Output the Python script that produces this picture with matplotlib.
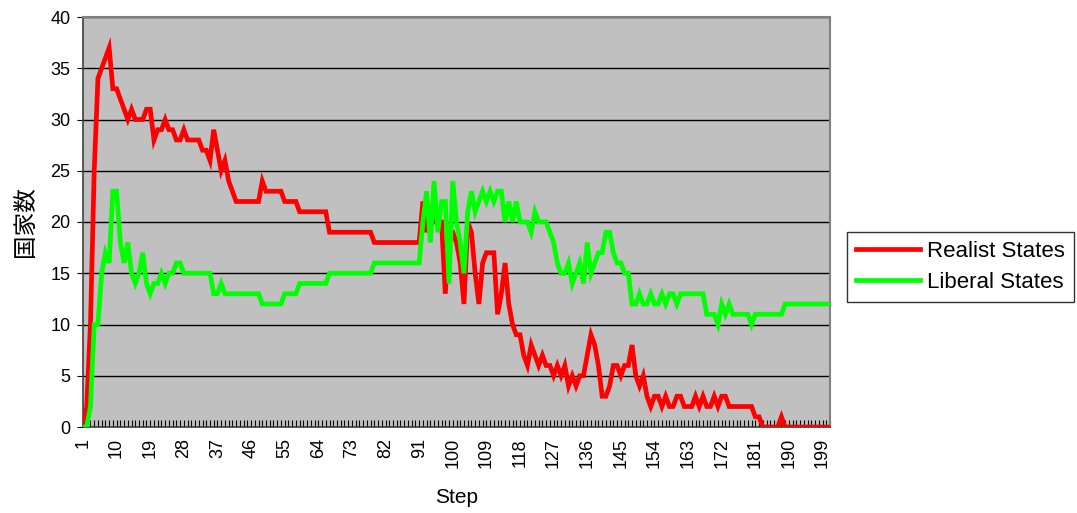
import matplotlib
matplotlib.use("Agg")
import matplotlib.pyplot as plt

# Simulation output: number of states per step
steps = list(range(1, 202))

realist = [
    0, 2, 10, 25, 34, 35, 36, 37, 33, 33,
    32, 31, 30, 31, 30, 30, 30, 31, 31, 28,
    29, 29, 30, 29, 29, 28, 28, 29, 28, 28,
    28, 28, 27, 27, 26, 29, 27, 25, 26, 24,
    23, 22, 22, 22, 22, 22, 22, 22, 24, 23,
    23, 23, 23, 23, 22, 22, 22, 22, 21, 21,
    21, 21, 21, 21, 21, 21, 19, 19, 19, 19,
    19, 19, 19, 19, 19, 19, 19, 19, 18, 18,
    18, 18, 18, 18, 18, 18, 18, 18, 18, 18,
    18, 22, 19, 21, 20, 20, 20, 13, 19, 19,
    18, 16, 12, 20, 19, 15, 12, 16, 17, 17,
    17, 11, 13, 16, 12, 10, 9, 9, 7, 6,
    8, 7, 6, 7, 6, 6, 5, 6, 5, 6,
    4, 5, 4, 5, 5, 7, 9, 8, 6, 3,
    3, 4, 6, 6, 5, 6, 6, 8, 5, 4,
    5, 3, 2, 3, 3, 2, 3, 2, 2, 3,
    3, 2, 2, 2, 3, 2, 3, 2, 2, 3,
    2, 3, 3, 2, 2, 2, 2, 2, 2, 2,
    1, 1, 0, 0, 0, 0, 0, 1, 0, 0,
    0, 0, 0, 0, 0, 0, 0, 0, 0, 0,
    0,
]

liberal = [
    0, 0, 2, 10, 10, 15, 17, 16, 23, 23,
    18, 16, 18, 15, 14, 15, 17, 14, 13, 14,
    14, 15, 14, 15, 15, 16, 16, 15, 15, 15,
    15, 15, 15, 15, 15, 13, 13, 14, 13, 13,
    13, 13, 13, 13, 13, 13, 13, 13, 12, 12,
    12, 12, 12, 12, 13, 13, 13, 13, 14, 14,
    14, 14, 14, 14, 14, 14, 15, 15, 15, 15,
    15, 15, 15, 15, 15, 15, 15, 15, 16, 16,
    16, 16, 16, 16, 16, 16, 16, 16, 16, 16,
    16, 20, 23, 18, 24, 19, 22, 22, 14, 24,
    20, 18, 15, 21, 23, 21, 22, 23, 22, 23,
    22, 23, 23, 20, 22, 20, 22, 20, 20, 20,
    19, 21, 20, 20, 20, 19, 18, 16, 15, 15,
    16, 14, 15, 16, 14, 18, 15, 16, 17, 17,
    19, 19, 17, 16, 16, 15, 15, 12, 12, 13,
    12, 12, 13, 12, 12, 13, 12, 13, 13, 12,
    13, 13, 13, 13, 13, 13, 13, 11, 11, 11,
    10, 12, 11, 12, 11, 11, 11, 11, 11, 10,
    11, 11, 11, 11, 11, 11, 11, 11, 12, 12,
    12, 12, 12, 12, 12, 12, 12, 12, 12, 12,
    12,
]

series_names = ["Realist States", "Liberal States"]
tick_steps = list(range(1, 202, 9))

plt.rcParams["font.family"] = ["Liberation Sans", "Noto Sans CJK JP"]

fig = plt.figure(figsize=(10.77, 5.13), dpi=100)
ax = fig.add_axes([83 / 1077, 1 - 427 / 513, (830 - 83) / 1077, (427 - 17) / 513])
ax.set_facecolor("#C0C0C0")

ax.plot(steps, realist, color="#FF0000", lw=3.4, label=series_names[0],
        solid_joinstyle="miter", zorder=3)
ax.plot(steps, liberal, color="#00FF00", lw=3.4, label=series_names[1],
        solid_joinstyle="miter", zorder=3)

ax.set_xlim(1, 201)
ax.set_ylim(0, 40)
ax.set_yticks(range(0, 41, 5))
ax.yaxis.grid(True, color="black", lw=1.0)
ax.set_axisbelow(True)

ax.set_xticks(tick_steps)
ax.set_xticklabels([str(s) for s in tick_steps], rotation=90, fontsize=13)
ax.set_xticks(steps, minor=True)
ax.tick_params(axis="x", which="both", direction="in", length=5, width=0.8, pad=8)
ax.tick_params(axis="y", direction="out", length=4, labelsize=13, pad=5)

for side in ["top", "right"]:
    ax.spines[side].set_color("#808080")
    ax.spines[side].set_linewidth(1.5)
for side in ["left", "bottom"]:
    ax.spines[side].set_color("#404040")
    ax.spines[side].set_linewidth(1.2)

ax.set_xlabel("Step", fontsize=15, labelpad=14)
ax.set_ylabel("国家数", fontsize=17, labelpad=10)

leg = fig.legend(loc="center left", bbox_to_anchor=(847 / 1077, 1 - 267 / 513),
                 fontsize=16, frameon=True, fancybox=False, edgecolor="black",
                 handlelength=2.9, borderpad=0.4, labelspacing=0.45,
                 handletextpad=0.3, borderaxespad=0)
leg.get_frame().set_linewidth(1.0)

fig.savefig("out.png", dpi=100)
